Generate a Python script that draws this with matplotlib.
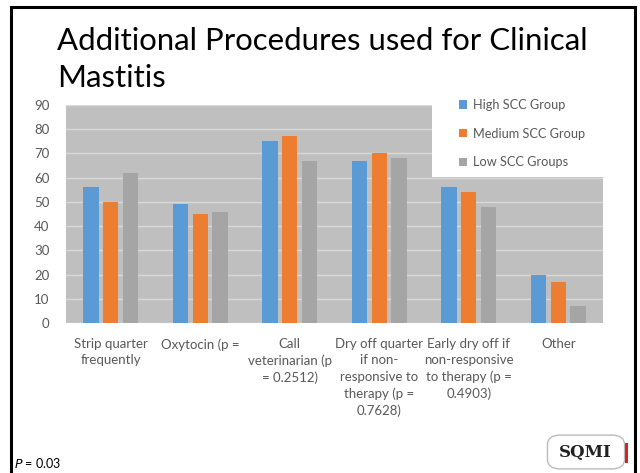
import matplotlib
matplotlib.use("Agg")
import matplotlib.pyplot as plt
import numpy as np
from matplotlib.patches import Rectangle, FancyBboxPatch

categories = [
    "Strip quarter\nfrequently",
    "Oxytocin (p =",
    "Call\nveterinarian (p\n= 0.2512)",
    "Dry off quarter\nif non-\nresponsive to\ntherapy (p =\n0.7628)",
    "Early dry off if\nnon-responsive\nto therapy (p =\n0.4903)",
    "Other",
]
series_names = ["High SCC Group", "Medium SCC Group", "Low SCC Groups"]
high = [56, 49, 75, 67, 56, 20]
medium = [50, 45, 77, 70, 54, 17]
low = [62, 46, 67, 68, 48, 7]
colors = ["#5B9BD5", "#ED7D31", "#A5A5A5"]
yticks = [0, 10, 20, 30, 40, 50, 60, 70, 80, 90]

plt.rcParams['font.family'] = ['Lato', 'DejaVu Sans']

W, H = 640, 473
fig = plt.figure(figsize=(W / 100, H / 100), dpi=100)
fig.patch.set_facecolor("white")

def fx(px):
    return px / W

def fy(py):
    return 1 - py / H

# slide border
border = Rectangle((fx(11), fy(490)), fx(635) - fx(11), fy(7) - fy(490),
                   transform=fig.transFigure, fill=False, edgecolor="black",
                   linewidth=2.2, zorder=10)
fig.add_artist(border)

# title
fig.text(fx(57), fy(50), "Additional Procedures used for Clinical",
         fontsize=22.4, color="black", ha="left", va="baseline")
fig.text(fx(57), fy(87), "Mastitis",
         fontsize=22.4, color="black", ha="left", va="baseline")

ax = fig.add_axes([fx(66), fy(323), fx(603) - fx(66), fy(105) - fy(323)])
ax.set_facecolor("#BFBFBF")
x = np.arange(len(categories))
bw = 0.173
off = 0.223
for i, (vals, name, c) in enumerate(zip([high, medium, low], series_names, colors)):
    ax.bar(x + (i - 1) * off, vals, width=bw, color=c, label=name, zorder=3)

ax.set_xlim(-0.5, len(categories) - 0.5)
ax.set_ylim(0, 90)
ax.set_yticks(yticks)
ax.yaxis.grid(True, color="#D9D9D9", linewidth=1.0, zorder=0)
ax.set_axisbelow(True)
for s in ax.spines.values():
    s.set_visible(False)
ax.tick_params(axis="both", length=0, colors="#595959", labelsize=9.5)
ax.tick_params(axis="y", pad=12)
ax.set_xticks(x)
ax.set_xticklabels(categories, fontsize=9.5, color="#595959", linespacing=1.42, va="top")
ax.tick_params(axis="x", pad=11)

# white legend area
ax.add_patch(Rectangle((fx(432 - 66) / fx(603 - 66), (323 - 177) / (323 - 105)),
                       1, 1, transform=ax.transAxes, facecolor="white",
                       edgecolor="none", zorder=1, clip_on=True))

leg = ax.legend(loc="upper left", bbox_to_anchor=(fx(459), fy(99)),
                bbox_transform=fig.transFigure, frameon=False, fontsize=9.2,
                handlelength=0.62, handleheight=0.62, handletextpad=0.45,
                labelspacing=1.3, borderpad=0, borderaxespad=0)
for t in leg.get_texts():
    t.set_color("#595959")

# p value note
fig.text(fx(14), fy(468), r"$P$ = 0.03", fontsize=9, color="black",
         ha="left", va="baseline")

# logo
logo = FancyBboxPatch((fx(550), fy(467)), fx(622) - fx(550), fy(437) - fy(467),
                      boxstyle="round,pad=0.004,rounding_size=0.02",
                      transform=fig.transFigure, facecolor="white",
                      edgecolor="#BBBBBB", linewidth=1.0, zorder=5)
fig.add_artist(logo)
fig.add_artist(Rectangle((fx(625), fy(463)), fx(2.5), fy(443) - fy(463),
                         transform=fig.transFigure, facecolor="#E0201B",
                         edgecolor="none", zorder=6))
fig.text(fx(585), fy(457), "SQMI", fontsize=12, fontweight="bold",
         family="DejaVu Serif", color="#222222", ha="center", va="baseline", zorder=7)

fig.savefig("out.png", dpi=100)
